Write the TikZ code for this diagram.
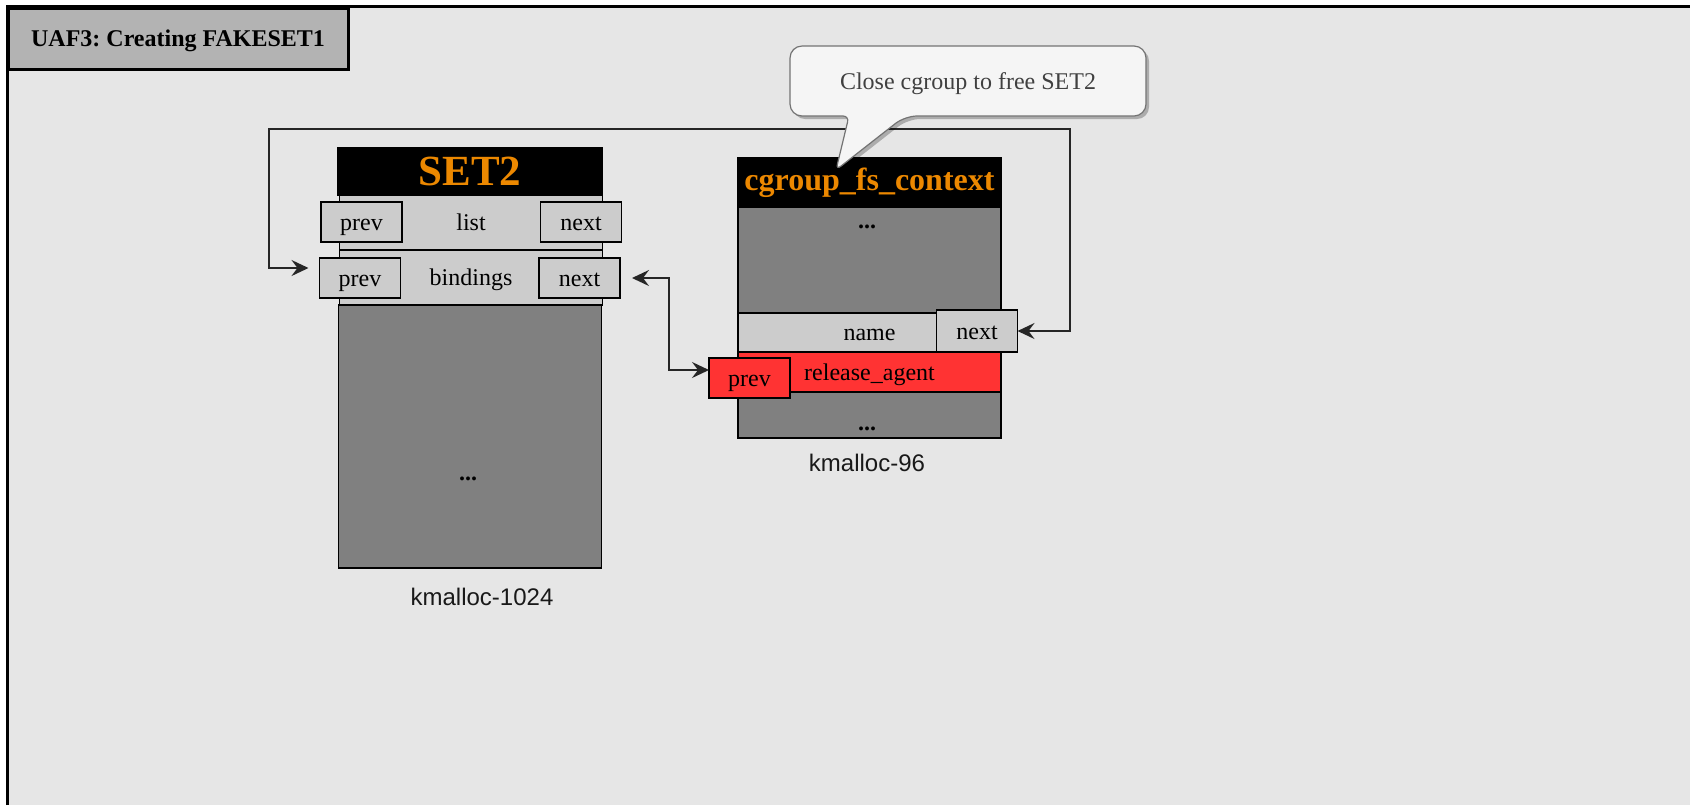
\documentclass[tikz,border=0pt]{standalone}
\usepackage{fontspec}
\setmainfont{Liberation Serif}
\newfontfamily\slabfont{Liberation Sans}
\usepackage{xcolor}
\usepackage{tikz}
\usetikzlibrary{arrows.meta,positioning,calc,shadows}
\definecolor{panelgray}{RGB}{230,230,230}
\definecolor{tabgray}{RGB}{179,179,179}
\definecolor{rowgray}{RGB}{204,204,204}
\definecolor{blkgray}{RGB}{128,128,128}
\definecolor{hdorange}{RGB}{236,136,0}
\definecolor{agentred}{RGB}{255,51,51}
\definecolor{notefill}{RGB}{245,245,245}
\frenchspacing

\begin{document}
\begin{tikzpicture}[
  x=0.5pt, y=-0.5pt,
  font=\fontsize{12}{14}\selectfont,
  >={Stealth[length=8.5pt,width=8pt,inset=3pt]},
  base/.style   = {draw, line width=0.7pt, inner sep=0pt, outer sep=0pt,
                   text height=10.7pt, text depth=2.6pt},
  tabnd/.style  = {base, fill=tabgray, line width=1.5pt, minimum width=170pt,
                   minimum height=30.5pt, font=\fontsize{12}{14}\selectfont\bfseries},
  hdr/.style    = {draw, line width=0.7pt, inner sep=0pt, outer sep=0pt,
                   fill=black, text=hdorange, minimum width=132pt},
  row/.style    = {base, fill=rowgray, minimum width=131.5pt},
  blk/.style    = {base, fill=blkgray, minimum width=131.5pt},
  ptr/.style    = {base, fill=rowgray, minimum width=40.5pt, minimum height=20pt},
  dots/.style   = {inner sep=0pt, font=\fontsize{12}{14}\selectfont\bfseries},
  slab/.style   = {inner sep=0pt, text=black!90, font=\fontsize{12}{14}\slabfont},
  link/.style   = {<->, line width=0.9pt, draw=black!85},
  notebox/.style = {fill=notefill, draw=black!55, line width=0.6pt,
                    drop shadow={shadow xshift=1.5pt, shadow yshift=-1.5pt,
                                 fill=black, opacity=0.25}},
  notetext/.style = {inner sep=0pt, text=black!75, text height=10.7pt, text depth=2.6pt}
]
\useasboundingbox (0,0) rectangle (1690,805);

%% ===== frame =====
\fill[white] (0,0) rectangle (1690,805);
\fill[panelgray] (7.5,6.5) rectangle (1690,805);
\draw[line width=1.5pt] (7.5,805) -- (7.5,6.5) -- (1690,6.5);
\node[tabnd] (tab) at (178,38.5) {UAF3: Creating FAKESET1};

%% ===== SET2 (kmalloc-1024) =====
\node[hdr, minimum height=23.5pt, font=\fontsize{21.5}{24}\selectfont\bfseries]
  (s2head) at (470,171.5) {SET2};
\node[row, minimum height=27.5pt] (s2list) at (471,222.5) {list};
\node[row, minimum height=27.5pt] (s2bind) at (471,277.5) {bindings};
\node[blk, minimum height=131.5pt] (s2body) at (470,436.5) {};
\node[dots] (s2dots) at (468,478.5) {...};

\node[ptr] (lprev) at (361.5,222) {prev};
\node[ptr] (lnext) at (581,222) {next};
\node[ptr] (bprev) at (360,278) {prev};
\node[ptr] (bnext) at (579.5,278) {next};

\node[slab] (s2slab) at (482,597) {kmalloc-1024};

%% ===== cgroup_fs_context (kmalloc-96) =====
\node[hdr, minimum height=24.5pt, font=\fontsize{16}{18}\selectfont\bfseries]
  (cghead) at (869.5,182.5) {cgroup\_fs\_context};
\node[blk, minimum height=53pt] (cgtop) at (869.5,260) {};
\node[dots] (cgdots1) at (867,226.5) {...};
\node[row, minimum height=19.5pt] (cgname) at (869.5,332.5) {name};
\node[base, fill=agentred, minimum width=131.5pt, minimum height=20pt]
  (cgrel) at (869.5,372) {release\_agent};
\node[blk, minimum height=23pt] (cgbot) at (869.5,415) {};
\node[dots] (cgdots2) at (867,428.5) {...};

\node[ptr, minimum height=21pt] (cgnext) at (977,331) {next};
\node[ptr, fill=agentred] (cgprev) at (749.5,378) {prev};

\node[slab] (cgslab) at (867,463) {kmalloc-96};

%% ===== links =====
\coordinate (loopl) at (269,129);
\coordinate (loopr) at (1070,129);
\coordinate (bendx) at (669,0);

\draw[link, shorten <=5.5pt] ([yshift=5pt]bprev.west) -| (loopl) -- (loopr) |- (cgnext.east);
\draw[link, shorten <=6pt] (bnext.east) -- (bnext.east -| bendx) |- ([yshift=4pt]cgprev.west);

%% ===== note =====
\coordinate (notec) at (968,81);
\draw[notebox] ($(notec)+(0,-35)$) [rounded corners=6pt]
  -- ($(notec)+(178,-35)$) -- ($(notec)+(178,35)$) -- ($(notec)+(-63,35)$)
  [rounded corners=3pt] -- ($(notec)+(-132,89)$) -- ($(notec)+(-119,35)$)
  [rounded corners=6pt] -- ($(notec)+(-178,35)$) -- ($(notec)+(-178,-35)$) -- cycle;
\node[notetext] (note) at (notec) {Close cgroup to free SET2};

\end{tikzpicture}
\end{document}
